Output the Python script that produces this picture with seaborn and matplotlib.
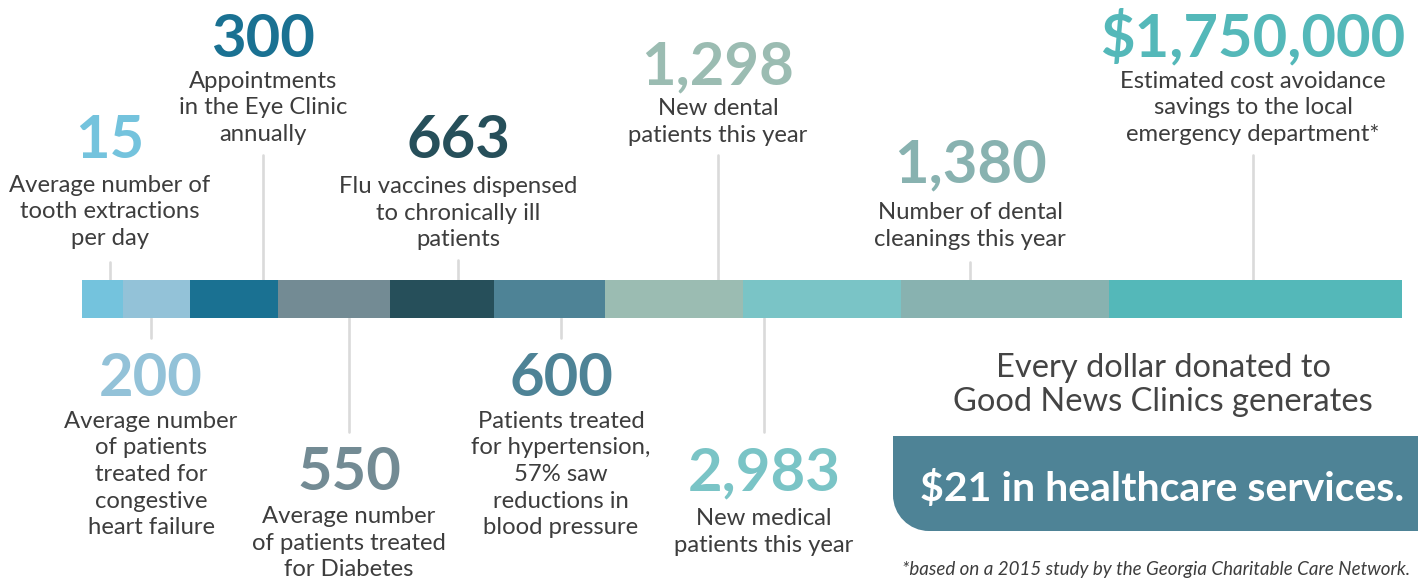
import numpy as np
import matplotlib.pyplot as plt
from matplotlib.path import Path
from matplotlib.patches import PathPatch
import seaborn as sns

# bar segments (left to right) and their colours
segment_widths = [41, 67, 88, 112, 104, 111, 138, 158, 208, 293]
segment_colors = ['#74C3DD', '#93C2D8', '#1A7192', '#738B94', '#264F5A',
                  '#4E8396', '#9BBCB2', '#7AC4C6', '#88B2B0', '#54B8B9']

# one callout per segment
stat_values = ['15', '200', '300', '550', '663', '600',
               '1,298', '2,983', '1,380', '$1,750,000']
stat_labels = [
    ['Average number of', 'tooth extractions', 'per day'],
    ['Average number', 'of patients', 'treated for', 'congestive', 'heart failure'],
    ['Appointments', 'in the Eye Clinic', 'annually'],
    ['Average number', 'of patients treated', 'for Diabetes'],
    ['Flu vaccines dispensed', 'to chronically ill', 'patients'],
    ['Patients treated', 'for hypertension,', '57% saw', 'reductions in', 'blood pressure'],
    ['New dental', 'patients this year'],
    ['New medical', 'patients this year'],
    ['Number of dental', 'cleanings this year'],
    ['Estimated cost avoidance', 'savings to the local', 'emergency department*'],
]

headline = ['Every dollar donated to', 'Good News Clinics generates']
highlight = '$21 in healthcare services.'
footnote = '*based on a 2015 study by the Georgia Charitable Care Network.'

# layout (pixels, y measured from top)
callout_x = [110, 151, 263, 349, 458, 561, 718, 764, 970, 1253]
number_base = [158, 396, 57, 490, 158, 396, 84, 490, 182, 56]
label_base = [192, 428, 88, 523, 193, 428, 115, 525, 219, 88]
line_end = [262, 338, 155, 432, 260, 338, 155, 432, 262, 155]
bar_x0, bar_top, bar_h = 82, 280, 38
line_step = 26.5

sns.set_theme(style='white')
plt.rcParams['font.family'] = ['Lato', 'DejaVu Sans']

W, H = 1418, 578
fig = plt.figure(figsize=(W / 100, H / 100), dpi=100)
ax = fig.add_axes([0, 0, 1, 1])
ax.set_xlim(0, W)
ax.set_ylim(H, 0)
ax.axis('off')

# stacked bar
lefts = bar_x0 + np.concatenate([[0], np.cumsum(segment_widths)[:-1]])
ax.barh(bar_top + bar_h / 2, segment_widths, left=lefts, height=bar_h,
        color=sns.color_palette(segment_colors), linewidth=0, zorder=2)

text_col = '#3d3d3d'
for i in range(len(stat_values)):
    x = callout_x[i]
    if line_end[i] < bar_top:
        ax.plot([x, x], [line_end[i], bar_top], color='#dadada', lw=1.9, zorder=1)
    else:
        ax.plot([x, x], [bar_top + bar_h, line_end[i]], color='#dadada', lw=1.9, zorder=1)
    ax.text(x, number_base[i], stat_values[i], ha='center', va='baseline',
            fontsize=43, fontweight='bold', color=segment_colors[i])
    for j, line in enumerate(stat_labels[i]):
        ax.text(x, label_base[i] + j * line_step, line, ha='center', va='baseline',
                fontsize=17.2, color=text_col)

# headline
for j, line in enumerate(headline):
    ax.text(1163, 377 + j * 34, line, ha='center', va='baseline',
            fontsize=23.5, color='#444444')

# highlight box with rounded bottom-left corner
x0, x1, y0, y1, r = 893, W, 436, 531, 36
k = 0.5523 * r
verts = [(x0, y0), (x1, y0), (x1, y1), (x0 + r, y1),
         (x0 + r - k, y1), (x0, y1 - r + k), (x0, y1 - r), (x0, y0)]
codes = [Path.MOVETO, Path.LINETO, Path.LINETO, Path.LINETO,
         Path.CURVE4, Path.CURVE4, Path.CURVE4, Path.CLOSEPOLY]
ax.add_patch(PathPatch(Path(verts, codes), facecolor='#4E8396', edgecolor='none'))
ax.text(1162, 501, highlight, ha='center', va='baseline', fontsize=29.5,
        fontweight='bold', color='white')

ax.text(1410, 575, footnote, ha='right', va='baseline', fontsize=13.5,
        style='italic', color=text_col)

fig.savefig('out.png', dpi=100)
